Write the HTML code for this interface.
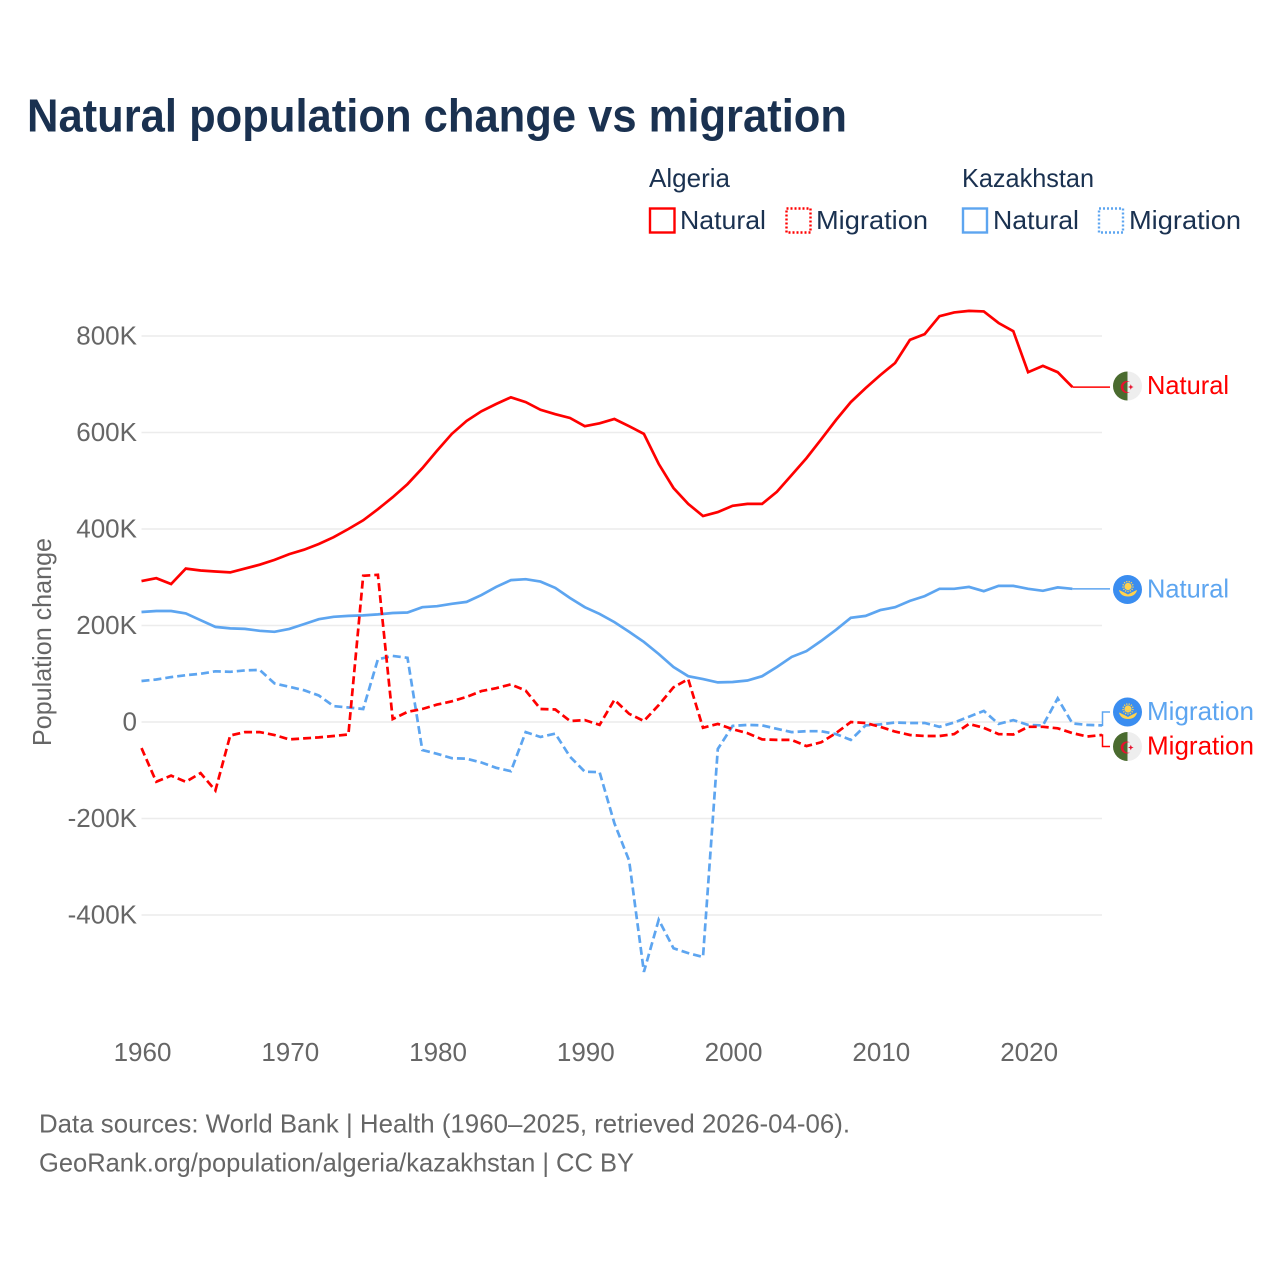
<!DOCTYPE html>
<html lang="en">
<head>
<meta charset="utf-8">
<title>Natural population change vs migration</title>
<style>
html,body{margin:0;padding:0;background:#fff;}
svg{display:block;}
text{font-family:"Liberation Sans",sans-serif;}
</style>
</head>
<body>
<svg id="chart" xmlns="http://www.w3.org/2000/svg" width="1280" height="1280" viewBox="0 0 1280 1280">
<rect width="1280" height="1280" fill="#fff"/>
<text x="27" y="131.500" font-size="46" font-weight="700" fill="#1a3150" textLength="820" lengthAdjust="spacingAndGlyphs">Natural population change vs migration</text>

<g font-size="26" fill="#1a3150">
<text x="649" y="187" textLength="81" lengthAdjust="spacingAndGlyphs">Algeria</text>
<text x="962" y="187" textLength="132" lengthAdjust="spacingAndGlyphs">Kazakhstan</text>
<rect x="650" y="208.500" width="24.500" height="24" fill="none" stroke="#ff0000" stroke-width="2.400"/>
<text x="680" y="229" textLength="86" lengthAdjust="spacingAndGlyphs">Natural</text>
<rect x="786.500" y="208.500" width="24" height="24" fill="none" stroke="#ff0000" stroke-width="2.400" stroke-dasharray="2 2"/>
<text x="816" y="229" textLength="112" lengthAdjust="spacingAndGlyphs">Migration</text>
<rect x="963" y="208.500" width="24" height="24" fill="none" stroke="#5da5f0" stroke-width="2.400"/>
<text x="993" y="229" textLength="86" lengthAdjust="spacingAndGlyphs">Natural</text>
<rect x="1099" y="208.500" width="24" height="24" fill="none" stroke="#5da5f0" stroke-width="2.400" stroke-dasharray="2 2"/>
<text x="1129" y="229" textLength="112" lengthAdjust="spacingAndGlyphs">Migration</text>
</g>

<g id="grid"></g>
<g id="yticks" font-size="26" fill="#666"></g>
<g id="xticks" font-size="26" fill="#666"></g>
<text transform="translate(51,746) rotate(-90)" font-size="26" fill="#666" textLength="208" lengthAdjust="spacingAndGlyphs">Population change</text>
<g id="marks"></g>
<g id="labels"></g>

<text x="39" y="1132.500" font-size="26" fill="#666" textLength="811" lengthAdjust="spacingAndGlyphs">Data sources: World Bank | Health (1960–2025, retrieved 2026-04-06).</text>
<text x="39" y="1171.500" font-size="26" fill="#666" textLength="595" lengthAdjust="spacingAndGlyphs">GeoRank.org/population/algeria/kazakhstan | CC BY</text>
</svg>

<script>
var years = [1960,1961,1962,1963,1964,1965,1966,1967,1968,1969,1970,1971,1972,1973,1974,1975,1976,1977,1978,1979,1980,1981,1982,1983,1984,1985,1986,1987,1988,1989,1990,1991,1992,1993,1994,1995,1996,1997,1998,1999,2000,2001,2002,2003,2004,2005,2006,2007,2008,2009,2010,2011,2012,2013,2014,2015,2016,2017,2018,2019,2020,2021,2022,2023,2024,2025];
var algeriaNatural = [292,298,286,318,314,312,310,318,326,336,348,357,369,383,400,418,441,466,493,526,562,597,624,644,659,673,663,647,638,630,613,619,628,613,597,535,485,452,427,435,448,452,452,477,512,547,586,626,663,692,719,744,792,804,841,849,852,851,827,810,725,738,725,694,null,null];
var algeriaMigration = [-54,-124,-111,-124,-106,-142,-28,-21,-21,-27,-36,-34,-32,-29,-26,303,305,6,21,27,36,43,52,64,70,78,65,27,26,2,4,-6,46,17,2,35,72,89,-12,-4,-15,-23,-36,-37,-37,-50,-42,-23,0,-2,-10,-20,-27,-29,-29,-25,-4,-12,-25,-26,-10,-10,-13,-23,-30,-27];
var kazakhstanNatural = [228,230,230,225,211,197,194,193,189,187,193,203,213,218,220,221,223,226,227,238,240,245,249,263,280,294,296,291,278,257,238,224,207,187,166,141,114,95,89,82,83,86,95,114,135,147,168,191,216,220,232,238,251,261,276,276,280,271,282,282,276,272,279,276,null,null];
var kazakhstanMigration = [85,88,93,97,100,105,104,107,108,80,73,66,55,33,30,27,130,137,133,-58,-66,-75,-76,-84,-95,-102,-21,-31,-24,-72,-103,-104,-210,-287,-518,-410,-469,-479,-487,-56,-8,-6,-7,-14,-21,-19,-19,-25,-37,-7,-5,-1,-2,-2,-10,-1,11,23,-4,4,-6,-7,49,-3,-6,-7];
var yTickValues = [800,600,400,200,0,-200,-400];
var yTickLabels = ["800K","600K","400K","200K","0","-200K","-400K"];
var xTickLabels = ["1960","1970","1980","1990","2000","2010","2020"];

var RED = "#ff0000", BLUE = "#5da5f0";
var NS = "http://www.w3.org/2000/svg";
function xScale(year){ return 141.5 + (year - 1960) * (1102 - 141.5) / 65; }
function yScale(value){ return 722 - value * 0.4825; }
function make(tag, parent, attrs){
  var el = document.createElementNS(NS, tag);
  for (var k in attrs) el.setAttribute(k, attrs[k]);
  parent.appendChild(el);
  return el;
}
var grid = document.getElementById("grid");
var yticks = document.getElementById("yticks");
var xticks = document.getElementById("xticks");
var marks = document.getElementById("marks");
var labels = document.getElementById("labels");

yTickValues.forEach(function(v, i){
  var gl = make("line", grid, {x1: xScale(1960), x2: xScale(2025), y1: yScale(v), y2: yScale(v), stroke: "#ececec", "stroke-width": 1.5});
  
  
  var t = make("text", yticks, {x: 137, y: yScale(v) + 8.5, "text-anchor": "end"});
  
  
  t.textContent = yTickLabels[i];
});
xTickLabels.forEach(function(label){
  var t = make("text", xticks, {x: xScale(+label) + 1, y: 1061, "text-anchor": "middle"});
  
  
  t.textContent = label;
});

function drawFlag(group, cx, cy, country){
  var g = make("g", group, {transform: "translate(" + cx + "," + cy + ")"});
  
  
  if (country === "algeria") {
    make("circle", g, {r: 14.5, fill: "#eeeeee"});
    make("path", g, {d: "M0,-14.500A14.500,14.500 0 0 0 0,14.500Z", fill: "#4a6b2f"});
    make("path", g, {d: "M2.500,-4A6,6 0 1 0 2.500,6A5.200,5.200 0 1 1 2.500,-4Z", fill: "#e8112d"});
    make("polygon", g, {points: "0.500,1 2.500,0.200 3.300,-1.800 4.100,0.200 6.100,1 4.100,1.800 3.300,3.800 2.500,1.800", fill: "#e8112d"});
  } else {
    make("circle", g, {r: 14.5, fill: "#3a8df0"});
    make("circle", g, {cx: 0.5, cy: -3, r: 3.6, fill: "#ffd24d"});
    make("circle", g, {cx: 0.5, cy: -3, r: 5, fill: "none", stroke: "#ffd24d", "stroke-width": 1.4, "stroke-dasharray": "1.200 1.200"});
    make("path", g, {d: "M-8.500,0.500C-6,1.500 -4,2.500 0.500,5C5,2.500 7,1.500 9.500,0.500C8.500,5 5,7 0.500,7C-4,7 -7.500,5 -8.500,0.500Z", fill: "#ffd24d"});
  }
}

var series = [
  {name: "algeria-natural", values: algeriaNatural, color: RED, dash: null, flagY: 386, text: "Natural", country: "algeria", len: 82},
  {name: "kazakhstan-natural", values: kazakhstanNatural, color: BLUE, dash: null, flagY: 589.500, text: "Natural", country: "kazakhstan", len: 82},
  {name: "kazakhstan-migration", values: kazakhstanMigration, color: BLUE, dash: "8 4", flagY: 712, text: "Migration", country: "kazakhstan", len: 107},
  {name: "algeria-migration", values: algeriaMigration, color: RED, dash: "8 4", flagY: 746.500, text: "Migration", country: "algeria", len: 107}
];

series.forEach(function(s){
  var pts = [], lastYear = null, lastValue = null;
  s.values.forEach(function(v, i){
    if (v === null) return;
    pts.push(xScale(years[i]).toFixed(1) + "," + yScale(v).toFixed(1));
    lastYear = years[i];
    lastValue = v;
  });
  var attrs = {points: pts.join(" "), fill: "none", stroke: s.color, "stroke-width": 2.7, "stroke-linejoin": "miter"};
  if (s.dash) attrs["stroke-dasharray"] = s.dash;
  var line = make("polyline", marks, attrs);
  
  

  var ex = xScale(lastYear), ey = yScale(lastValue), d;
  if (Math.abs(ey - s.flagY) < 2) {
    d = "M" + ex + "," + ey + "L1110," + ey;
  } else {
    d = "M" + ex + "," + ey + "L1102.500," + ey + "L1102.500," + s.flagY + "L1110," + s.flagY;
  }
  var conn = make("path", labels, {d: d, fill: "none", stroke: s.color, "stroke-width": 1.5});
  
  
  drawFlag(labels, 1127.5, s.flagY, s.country);
  var t = make("text", labels, {x: 1147, y: s.flagY + 8, "font-size": 26, fill: s.color, textLength: s.len, lengthAdjust: "spacingAndGlyphs"});
  
  
  t.textContent = s.text;
});
</script>
</body>
</html>
